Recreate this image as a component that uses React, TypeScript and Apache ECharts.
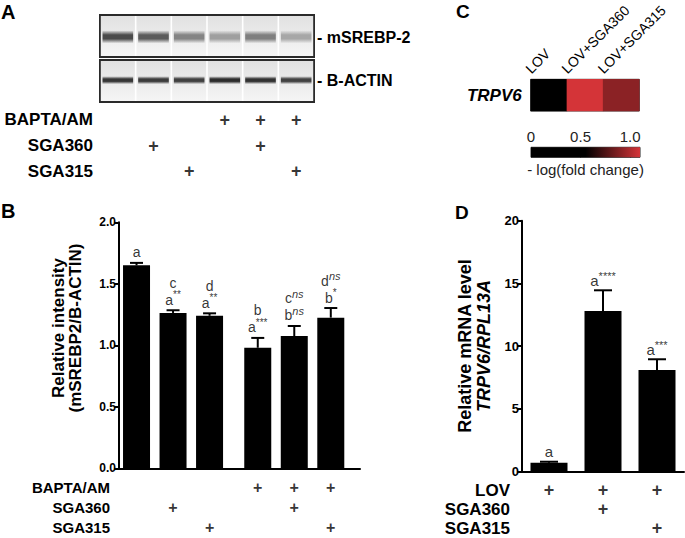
import React, { useEffect, useRef } from 'react';
import * as echarts from 'echarts';

// ---------- Panel A: capillary western blot ----------
const laneIds = ['L1', 'L2', 'L3', 'L4', 'L5', 'L6'];
const srebpBandDarkness = [0.7, 0.63, 0.46, 0.35, 0.48, 0.32];
const actinBandDarkness = [0.78, 0.76, 0.74, 0.82, 0.8, 0.73];

// Treatment table (panels A and B), rows top to bottom
const treatRowsAB = ['BAPTA/AM', 'SGA360', 'SGA315'];
const baptaAM = [0, 0, 0, 1, 1, 1];
const sga360AB = [0, 1, 0, 0, 1, 0];
const sga315AB = [0, 0, 1, 0, 0, 1];

// ---------- Panel B ----------
const intensityMean = [1.65, 1.263, 1.24, 0.98, 1.075, 1.225];
const intensitySem = [0.02, 0.022, 0.02, 0.08, 0.082, 0.078];
const upperLetter = ['', 'c', 'd', 'b', 'c', 'd'];
const upperSup = ['', '', '', '', 'ns', 'ns'];
const lowerLetter = ['a', 'a', 'a', 'a', 'b', 'b'];
const lowerSup = ['', '**', '**', '***', 'ns', '*'];

// ---------- Panel C ----------
const heatGenes = ['TRPV6'];
const heatConditions = ['LOV', 'LOV+SGA360', 'LOV+SGA315'];
const heatValues = [0, 1.1, 0.91];
const colorScaleMax = 1.1;
const colorTicks = [0, 0.5, 1.0];

// ---------- Panel D ----------
const mrnaGroups = ['LOV', 'LOV+SGA360', 'LOV+SGA315'];
const mrnaMean = [0.7, 12.8, 8.1];
const mrnaSem = [0.08, 1.65, 0.85];
const mrnaSup = ['', '****', '***'];
const treatRowsD = ['LOV', 'SGA360', 'SGA315'];
const lovD = [1, 1, 1];
const sga360D = [0, 1, 0];
const sga315D = [0, 0, 1];

const FONT = "'Liberation Sans', Arial, Helvetica, sans-serif";
const INK = '#000';

const bGap = 0.32;
const bPos = intensityMean.map((_, i) => i + 0.48 + (i >= 3 ? bGap : 0));

// heatmap grid geometry
const HEAT = { left: 530.7, top: 79.3, width: 108.6, height: 31.7 };

function plusPoints(rows: number[][], xOf: (i: number) => number) {
  const out: number[][] = [];
  rows.forEach((flags, r) => flags.forEach((f, i) => { if (f) out.push([xOf(i), r]); }));
  return out;
}

function blotRender(bandY: number, bandHalf: number) {
  return (params: any, api: any) => {
    const i = api.value(0);
    const d = api.value(1);
    const cs = params.coordSys;
    const c = api.coord([i, bandY]);
    const w = api.size([1, 0])[0];
    const g = Math.round(245 * (1 - d));
    const band = `rgba(${g},${g},${g},1)`;
    const bandT = `rgba(${g},${g},${g},0)`;
    return {
      type: 'group',
      children: [
        {
          type: 'rect',
          shape: { x: c[0] - w / 2 + 0.8, y: cs.y + 1, width: w - 1.6, height: cs.height - 2 },
          style: {
            fill: new echarts.graphic.LinearGradient(0, 0, 0, 1, [
              { offset: 0, color: '#e1e1e1' },
              { offset: 0.5, color: '#ebebeb' },
              { offset: 1, color: '#f5f5f5' },
            ]),
          },
        },
        {
          type: 'rect',
          shape: { x: c[0] - w / 2 + 2.5, y: c[1] - bandHalf, width: w - 5, height: bandHalf * 2 },
          style: {
            fill: new echarts.graphic.LinearGradient(0, 0, 0, 1, [
              { offset: 0, color: bandT },
              { offset: 0.35, color: band },
              { offset: 0.65, color: band },
              { offset: 1, color: bandT },
            ]),
          },
        },
      ],
    };
  };
}

function errRender(capHalf: number) {
  return (params: any, api: any) => {
    const x = api.value(0);
    const m = api.value(1);
    const e = api.value(2);
    const top = api.coord([x, m + e]);
    const base = api.coord([x, m]);
    return {
      type: 'group',
      children: [
        { type: 'line', shape: { x1: top[0], y1: top[1], x2: base[0], y2: base[1] }, style: { stroke: '#000', lineWidth: 2 } },
        { type: 'line', shape: { x1: top[0] - capHalf, y1: top[1], x2: top[0] + capHalf, y2: top[1] }, style: { stroke: '#000', lineWidth: 2 } },
      ],
    };
  };
}

const supTag = (s: string) => (s === '' ? '' : s === 'ns' ? `{si|ns}` : `{s|${s}}`);

const plusLabel = (size: number) => ({
  show: true,
  position: 'inside',
  formatter: '+',
  fontSize: size,
  fontWeight: 'bold',
  color: INK,
});

function buildOption() {
  const series: any[] = [];
  series.push({
    type: 'custom', xAxisIndex: 0, yAxisIndex: 0, silent: true,
    data: srebpBandDarkness.map((d, i) => [i, d]),
    renderItem: blotRender(0.48, 6.5),
  });
  series.push({
    type: 'custom', xAxisIndex: 1, yAxisIndex: 1, silent: true,
    data: actinBandDarkness.map((d, i) => [i, d]),
    renderItem: blotRender(0.52, 4),
  });
  series.push({
    type: 'scatter', xAxisIndex: 2, yAxisIndex: 2, silent: true,
    symbolSize: 1, itemStyle: { color: 'rgba(0,0,0,0)' },
    data: plusPoints([baptaAM, sga360AB, sga315AB], (i) => i),
    label: plusLabel(18),
  });
  series.push({
    type: 'bar', xAxisIndex: 3, yAxisIndex: 3, silent: true,
    barWidth: 27,
    itemStyle: { color: '#000' },
    data: intensityMean.map((v, i) => [bPos[i], v]),
  });
  series.push({
    type: 'custom', xAxisIndex: 3, yAxisIndex: 3, silent: true, z: 3,
    data: intensityMean.map((v, i) => [bPos[i], v, intensitySem[i]]),
    renderItem: errRender(6.5),
  });
  series.push({
    type: 'scatter', xAxisIndex: 3, yAxisIndex: 3, silent: true,
    symbolSize: 1, itemStyle: { color: 'rgba(0,0,0,0)' },
    data: intensityMean.map((v, i) => [bPos[i], v + intensitySem[i]]),
    label: {
      show: true,
      position: 'top',
      distance: 3,
      formatter: (p: any) => {
        const i = p.dataIndex;
        const lines: string[] = [];
        if (upperLetter[i]) lines.push(`{n|${upperLetter[i]}}${supTag(upperSup[i])}`);
        lines.push(`{n|${lowerLetter[i]}}${supTag(lowerSup[i])}`);
        return lines.join('\n');
      },
      rich: {
        n: { fontSize: 14, color: INK, lineHeight: 17, verticalAlign: 'bottom' },
        s: { fontSize: 10, color: INK, lineHeight: 9, verticalAlign: 'top' },
        si: { fontSize: 11, color: INK, fontStyle: 'italic', lineHeight: 10, verticalAlign: 'top' },
      },
    },
  });
  series.push({
    type: 'scatter', xAxisIndex: 4, yAxisIndex: 4, silent: true,
    symbolSize: 1, itemStyle: { color: 'rgba(0,0,0,0)' },
    data: plusPoints([baptaAM, sga360AB, sga315AB], (i) => bPos[i]),
    label: plusLabel(16),
  });
  const heatIndex = series.length;
  series.push({
    type: 'heatmap', xAxisIndex: 5, yAxisIndex: 5, silent: true,
    data: heatValues.map((v, i) => [i, 0, v]),
  });
  series.push({
    type: 'bar', xAxisIndex: 6, yAxisIndex: 6, silent: true,
    barWidth: '100%',
    data: [colorScaleMax],
    itemStyle: {
      color: new echarts.graphic.LinearGradient(0, 0, 1, 0, [
        { offset: 0, color: '#000000' },
        { offset: 0.5, color: '#000000' },
        { offset: 1, color: '#d43438' },
      ]),
    },
  });
  series.push({
    type: 'bar', xAxisIndex: 8, yAxisIndex: 7, silent: true,
    barWidth: 37,
    itemStyle: { color: '#000' },
    data: mrnaMean,
  });
  series.push({
    type: 'custom', xAxisIndex: 8, yAxisIndex: 7, silent: true, z: 3,
    data: mrnaMean.map((v, i) => [i, v, mrnaSem[i]]),
    renderItem: errRender(9),
  });
  series.push({
    type: 'scatter', xAxisIndex: 8, yAxisIndex: 7, silent: true,
    symbolSize: 1, itemStyle: { color: 'rgba(0,0,0,0)' },
    data: mrnaMean.map((v, i) => [i, v + mrnaSem[i]]),
    label: {
      show: true,
      position: 'top',
      distance: 2,
      formatter: (p: any) => `{n|a}${supTag(mrnaSup[p.dataIndex])}`,
      rich: {
        n: { fontSize: 15, color: INK, lineHeight: 17, verticalAlign: 'bottom' },
        s: { fontSize: 11, color: INK, lineHeight: 10, verticalAlign: 'top' },
      },
    },
  });
  series.push({
    type: 'scatter', xAxisIndex: 9, yAxisIndex: 8, silent: true,
    symbolSize: 1, itemStyle: { color: 'rgba(0,0,0,0)' },
    data: plusPoints([lovD, sga360D, sga315D], (i) => i),
    label: plusLabel(18),
  });

  const hiddenCat = (gridIndex: number, data: string[]) => ({ gridIndex, type: 'category', data, show: false });
  const rowAxis = (gridIndex: number, data: string[], fontSize: number, margin: number) => ({
    gridIndex, type: 'category', data, inverse: true,
    axisLine: { show: false }, axisTick: { show: false }, splitLine: { show: false },
    axisLabel: { fontSize, fontWeight: 'bold', color: INK, margin, interval: 0, fontFamily: FONT },
  });

  const cellW = HEAT.width / heatConditions.length;
  const columnLabels = heatConditions.map((name, i) => ({
    type: 'text',
    x: HEAT.left + cellW * (i + 0.5) - 16,
    y: HEAT.top - 3.5,
    rotation: Math.PI / 4,
    style: { text: name, fontSize: 14, fill: INK, fontFamily: FONT, textAlign: 'left', textVerticalAlign: 'bottom' },
  }));

  const letter = (t: string, x: number, y: number, size: number) => ({
    type: 'text', x, y,
    style: { text: t, fontSize: size, fontWeight: 'bold', fill: INK, fontFamily: FONT, textVerticalAlign: 'middle' },
  });
  const vtitle = (t: string, x: number, y: number, size: number, italic = false) => ({
    type: 'text', x, y, rotation: Math.PI / 2,
    style: {
      text: t, fontSize: size, fontWeight: 'bold', fontStyle: italic ? 'italic' : 'normal',
      fill: INK, fontFamily: FONT, textAlign: 'center', textVerticalAlign: 'middle',
    },
  });

  return {
    animation: false,
    backgroundColor: '#ffffff',
    textStyle: { fontFamily: FONT },
    grid: [
      { left: 100, top: 15, width: 214, height: 42, show: true, backgroundColor: '#ffffff', borderColor: '#2a2a2a', borderWidth: 2 },
      { left: 100, top: 60, width: 214, height: 42, show: true, backgroundColor: '#ffffff', borderColor: '#2a2a2a', borderWidth: 2 },
      { left: 100, top: 107, width: 214, height: 77 },
      { left: 119, top: 222.3, width: 241, height: 246 },
      { left: 119, top: 477.5, width: 241, height: 63 },
      { ...HEAT, show: true, borderColor: '#333', borderWidth: 1 },
      { left: 531, top: 147.3, width: 109, height: 10, show: true, borderColor: '#222', borderWidth: 1 },
      { left: 522, top: 220.7, width: 162, height: 250.8 },
      { left: 522, top: 480.7, width: 162, height: 60 },
    ],
    xAxis: [
      hiddenCat(0, laneIds),
      hiddenCat(1, laneIds),
      hiddenCat(2, laneIds),
      {
        gridIndex: 3, type: 'value', min: 0, max: 6.6,
        axisLine: { show: true, lineStyle: { color: '#000', width: 2 } },
        axisTick: { show: false }, axisLabel: { show: false }, splitLine: { show: false },
      },
      { gridIndex: 4, type: 'value', min: 0, max: 6.6, show: false },
      {
        gridIndex: 5, type: 'category', data: heatConditions, position: 'top',
        axisLine: { show: false }, axisTick: { show: false }, axisLabel: { show: false },
      },
      {
        gridIndex: 6, type: 'value', min: 0, max: colorScaleMax, position: 'top',
        axisLine: { show: false }, axisTick: { show: false }, splitLine: { show: false },
        axisLabel: {
          customValues: colorTicks, fontSize: 15, color: '#222', margin: 3,
          formatter: (v: number) => (v === 0 ? '0' : v.toFixed(1)),
        },
      },
      {
        gridIndex: 6, type: 'value', min: 0, max: colorScaleMax, position: 'bottom',
        axisLine: { show: false }, splitLine: { show: false },
        axisTick: { show: true, inside: true, length: 4, customValues: [0.5, 1.0], lineStyle: { color: '#000', width: 1 } },
        axisLabel: { show: false },
        name: '- log(fold change)', nameLocation: 'middle', nameGap: 5,
        nameTextStyle: { fontSize: 15, color: '#222', verticalAlign: 'top' },
      },
      {
        gridIndex: 7, type: 'category', data: mrnaGroups,
        axisLine: { show: true, lineStyle: { color: '#000', width: 2 } },
        axisTick: { show: false }, axisLabel: { show: false },
      },
      hiddenCat(8, mrnaGroups),
    ],
    yAxis: [
      { gridIndex: 0, type: 'value', min: 0, max: 1, show: false },
      { gridIndex: 1, type: 'value', min: 0, max: 1, show: false },
      rowAxis(2, treatRowsAB, 17, 7),
      {
        gridIndex: 3, type: 'value', min: 0, max: 2, interval: 0.5,
        axisLine: { show: true, lineStyle: { color: '#000', width: 2 } },
        axisTick: { show: true, length: 5, lineStyle: { color: '#000', width: 2 } },
        axisLabel: { fontSize: 12, fontWeight: 'bold', color: INK, margin: 3, formatter: (v: number) => v.toFixed(1) },
        splitLine: { show: false },
      },
      rowAxis(4, treatRowsAB, 15, 9),
      {
        gridIndex: 5, type: 'category', data: heatGenes,
        axisLine: { show: false }, axisTick: { show: false },
        axisLabel: { fontSize: 17, fontWeight: 'bold', fontStyle: 'italic', color: INK, margin: 9 },
      },
      { gridIndex: 6, type: 'category', data: [''], show: false },
      {
        gridIndex: 7, type: 'value', min: 0, max: 20, interval: 5,
        axisLine: { show: true, lineStyle: { color: '#000', width: 2 } },
        axisTick: { show: true, length: 5, lineStyle: { color: '#000', width: 2 } },
        axisLabel: { fontSize: 13, fontWeight: 'bold', color: INK, margin: 3 },
        splitLine: { show: false },
      },
      rowAxis(8, treatRowsD, 17, 12),
    ],
    visualMap: [
      {
        type: 'continuous', show: false, seriesIndex: heatIndex,
        min: 0, max: colorScaleMax,
        inRange: { color: ['#000000', '#000000', '#d43438'] },
      },
    ],
    graphic: [
      letter('A', 1, 12, 20),
      letter('B', 1, 211, 20),
      letter('C', 456, 11, 19),
      letter('D', 455, 212, 19),
      letter('- mSREBP-2', 317, 37, 16),
      letter('- B-ACTIN', 317, 80, 16),
      vtitle('Relative intensity', 58, 328, 17),
      vtitle('(mSREBP2/B-ACTIN)', 75.5, 328, 17),
      vtitle('Relative mRNA level', 464.5, 346, 18),
      vtitle('TRPV6/RPL13A', 484, 346, 18, true),
      ...columnLabels,
    ],
    series,
  };
}

export default function App() {
  const ref = useRef<HTMLDivElement>(null);
  useEffect(() => {
    if (!ref.current) return;
    const chart = echarts.init(ref.current, undefined, { renderer: 'svg' });
    chart.setOption(buildOption() as any);
    return () => chart.dispose();
  }, []);
  return (
    <div
      ref={ref}
      style={{ position: 'fixed', left: 0, top: 0, width: 685, height: 538, background: '#ffffff' }}
    />
  );
}
